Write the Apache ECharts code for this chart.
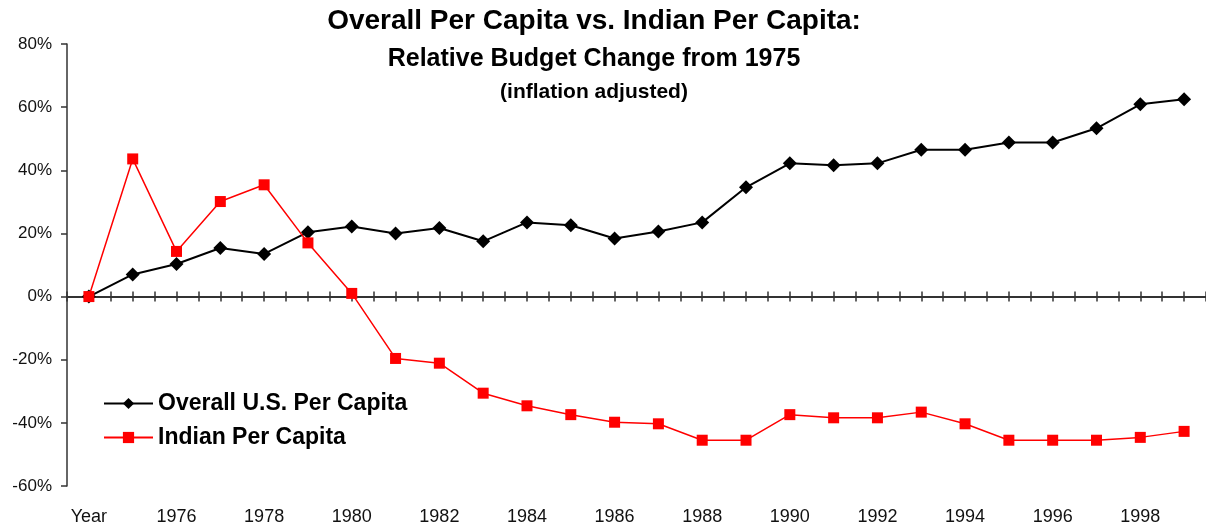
<!DOCTYPE html>
<html>
<head>
<meta charset="utf-8">
<script src="https://cdn.jsdelivr.net/npm/echarts@6/dist/echarts.min.js"></script>
<style>
html,body{margin:0;padding:0;background:#fff;}
#chart{width:1206px;height:527px;}
</style>
</head>
<body>
<div id="chart"></div>
<script>
const categories = ['Year','1975','1976','1977','1978','1979','1980','1981','1982','1983','1984','1985','1986','1987','1988','1989','1990','1991','1992','1993','1994','1995','1996','1997','1998','1999'];
const overallUS = [0, 7.0, 10.3, 15.4, 13.5, 20.4, 22.2, 20.0, 21.7, 17.5, 23.5, 22.6, 18.4, 20.6, 23.5, 34.6, 42.2, 41.6, 42.2, 46.5, 46.5, 48.8, 48.8, 53.3, 60.9, 62.5];
const indian = [0, 43.6, 14.3, 30.1, 35.4, 17.0, 1.0, -19.6, -21.1, -30.6, -34.6, -37.4, -39.8, -40.3, -45.5, -45.5, -37.4, -38.4, -38.4, -36.6, -40.3, -45.5, -45.5, -45.5, -44.6, -42.7];
const yTicks = {min: -60, max: 80, interval: 20};
const titles = ['Overall Per Capita vs. Indian Per Capita:', 'Relative Budget Change from 1975', '(inflation adjusted)'];
const seriesNames = ['Overall U.S. Per Capita', 'Indian Per Capita'];

const FONT = '"Liberation Sans", Arial, sans-serif';
const axisColor = '#333';

function tickAxis(inside, alignWithLabel) {
  return {
    type: 'category', data: categories, boundaryGap: true, position: 'bottom',
    axisLine: {show: true, onZero: true, onZeroAxisIndex: 0, lineStyle: {color: axisColor, width: 1.5}},
    axisTick: {show: true, interval: 0, inside: inside, alignWithLabel: alignWithLabel, length: 5, lineStyle: {color: axisColor, width: 1.5}},
    axisLabel: {show: false}, splitLine: {show: false}
  };
}

const chart = echarts.init(document.getElementById('chart'), null, {renderer: 'canvas'});
chart.setOption({
  animation: false,
  backgroundColor: '#fff',
  title: [
    {text: titles[0], left: 594, top: 7, textAlign: 'center', padding: 0, textStyle: {fontFamily: FONT, fontSize: 28, fontWeight: 'bold', color: '#000'}},
    {text: titles[1], left: 594, top: 47, textAlign: 'center', padding: 0, textStyle: {fontFamily: FONT, fontSize: 25, fontWeight: 'bold', color: '#000'}},
    {text: titles[2], left: 594, top: 82, textAlign: 'center', padding: 0, textStyle: {fontFamily: FONT, fontSize: 21, fontWeight: 'bold', color: '#000'}}
  ],
  legend: {
    orient: 'vertical', left: 103, top: 392, padding: 0,
    itemWidth: 49, itemHeight: 14, itemGap: 11,
    data: seriesNames,
    textStyle: {fontFamily: FONT, fontSize: 23, fontWeight: 'bold', color: '#000', lineHeight: 23}
  },
  grid: {left: 67, top: 44, width: 1140, height: 442, containLabel: false},
  xAxis: [
    tickAxis(false, false),
    tickAxis(true, false),
    tickAxis(false, true),
    tickAxis(true, true),
    {
      type: 'category', data: categories, boundaryGap: true, position: 'bottom',
      axisLine: {show: false, onZero: false}, axisTick: {show: false},
      axisLabel: {show: true, interval: 1, margin: 22, fontFamily: FONT, fontSize: 18, color: '#111'},
      splitLine: {show: false}
    }
  ],
  yAxis: {
    type: 'value', min: yTicks.min, max: yTicks.max, interval: yTicks.interval,
    axisLine: {show: true, onZero: false, lineStyle: {color: axisColor, width: 1.5}},
    axisTick: {show: true, length: 6, lineStyle: {color: axisColor, width: 1.5}},
    axisLabel: {formatter: '{value}%', margin: 15, fontFamily: FONT, fontSize: 17, color: '#111'},
    splitLine: {show: false}
  },
  series: [
    {
      name: seriesNames[0], type: 'line', data: overallUS, xAxisIndex: 0,
      symbol: 'diamond', symbolSize: [14, 14],
      lineStyle: {color: '#000', width: 2}, itemStyle: {color: '#000'}, z: 3
    },
    {
      name: seriesNames[1], type: 'line', data: indian, xAxisIndex: 0,
      symbol: 'rect', symbolSize: 11,
      lineStyle: {color: '#ff0000', width: 1.5}, itemStyle: {color: '#ff0000'}, z: 4
    }
  ]
});
</script>
</body>
</html>
